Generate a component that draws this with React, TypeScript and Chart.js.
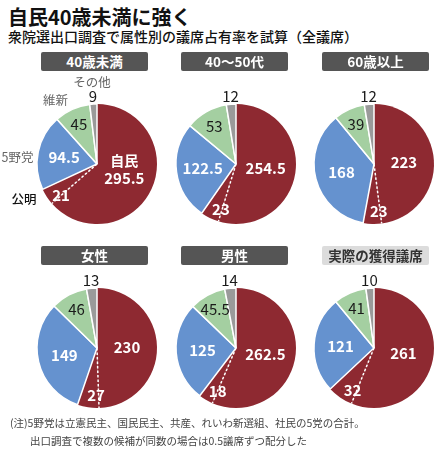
import React, { useEffect, useRef } from 'react';
import { Chart, registerables } from 'chart.js';

Chart.register(...registerables);

const title = '自民40歳未満に強く';
const subtitle = '衆院選出口調査で属性別の議席占有率を試算（全議席）';
const notes = [
  '(注)5野党は立憲民主、国民民主、共産、れいわ新選組、社民の5党の合計。',
  '出口調査で複数の候補が同数の場合は0.5議席ずつ配分した',
];

const parties = ['自民', '公明', '5野党', '維新', 'その他'];
const groups = ['40歳未満', '40～50代', '60歳以上', '女性', '男性', '実際の獲得議席'];
const jimin = [295.5, 254.5, 223, 230, 262.5, 261];
const komei = [21, 23, 23, 27, 18, 32];
const yato = [94.5, 122.5, 168, 149, 125, 121];
const ishin = [45, 53, 39, 46, 45.5, 41];
const others = [9, 12, 12, 13, 14, 10];

const colors = ['#8e2931', '#8e2931', '#6592cf', '#a4cfa1', '#9a9a9a'];
const FONT = '"Noto Sans CJK JP", "Noto Sans", sans-serif';

// where each party's value / name goes (relative to the slice)
const valueStyle = [
  { r: 0.5, shift: 0, color: '#fff', bold: true },
  { r: 0.79, shift: -0.13, color: '#fff', bold: true },
  { r: 0.56, shift: 0, color: '#fff', bold: true },
  { r: 0.73, shift: 0, color: '#1a1a1a', bold: false },
  { r: 1.13, shift: 0, color: '#1a1a1a', bold: false },
];
const nameStyle = [
  null,
  { r: 10, shift: 0.05, align: 'right', color: '#111' },
  { r: 4, shift: -0.09, align: 'right', color: '#666' },
  { r: 10, shift: 0, align: 'right', color: '#666' },
  { r: 22, shift: 0, align: 'center', color: '#666' },
];

const fmt = (v: number) => String(v);

const sliceLabels = {
  id: 'sliceLabels',
  afterDatasetsDraw(chart: any) {
    const ctx = chart.ctx as CanvasRenderingContext2D;
    const arcs = chart.getDatasetMeta(0).data as any[];
    const values = chart.data.datasets[0].data as number[];
    const showNames = chart.options.plugins.sliceLabels?.showNames;
    const { x: cx, y: cy, outerRadius: R } = arcs[0].getProps(['x', 'y', 'outerRadius'], true);

    ctx.save();
    // dashed line between 自民 and 公明
    const a = arcs[0].endAngle;
    ctx.strokeStyle = '#fff';
    ctx.lineWidth = 1.5;
    ctx.setLineDash([2.5, 2]);
    ctx.beginPath();
    ctx.moveTo(cx, cy);
    ctx.lineTo(cx + Math.cos(a) * R, cy + Math.sin(a) * R);
    ctx.stroke();
    ctx.setLineDash([]);

    ctx.textBaseline = 'middle';
    arcs.forEach((arc, i) => {
      const mid = (arc.startAngle + arc.endAngle) / 2;
      const vs = valueStyle[i];
      const va = mid + vs.shift;
      const vx = cx + Math.cos(va) * R * vs.r;
      const vy = cy + Math.sin(va) * R * vs.r;
      ctx.fillStyle = vs.color;
      ctx.textAlign = 'center';
      ctx.font = `${vs.bold ? 'bold ' : ''}15px ${FONT}`;
      if (i === 0 && showNames) {
        ctx.font = `bold 14px ${FONT}`;
        ctx.fillText(parties[0], vx, vy - 16);
        ctx.font = `bold 15px ${FONT}`;
        ctx.fillText(fmt(values[i]), vx, vy + 2);
      } else {
        ctx.fillText(fmt(values[i]), vx, vy);
      }
      const ns = nameStyle[i];
      if (showNames && ns) {
        const na = mid + ns.shift;
        const nx = cx + Math.cos(na) * (R + ns.r);
        const ny = cy + Math.sin(na) * (R + ns.r);
        ctx.fillStyle = ns.color;
        ctx.textAlign = ns.align as CanvasTextAlign;
        ctx.font = `${i === 1 ? '500 ' : ''}12.5px ${FONT}`;
        ctx.fillText(parties[i], nx, ny);
      }
    });
    ctx.restore();
  },
};

const centersX = [97, 236, 374];
const centersY = [164, 348];
const boxLeft = [41, 181, 322];
const boxTop = [52, 246];

function Pie({ index }: { index: number }) {
  const canvasRef = useRef<HTMLCanvasElement>(null);

  useEffect(() => {
    if (!canvasRef.current) return;
    const chart = new Chart(canvasRef.current, {
      type: 'pie',
      data: {
        labels: parties,
        datasets: [
          {
            data: [jimin[index], komei[index], yato[index], ishin[index], others[index]],
            backgroundColor: colors,
            borderColor: '#fff',
            borderWidth: [0, 0, 1.5, 1.5, 1.5],
            radius: 60,
          } as any,
        ],
      },
      options: {
        responsive: false,
        animation: false,
        events: [],
        layout: { padding: 0 },
        plugins: {
          legend: { display: false },
          tooltip: { enabled: false },
          sliceLabels: { showNames: index === 0 },
        } as any,
      },
      plugins: [sliceLabels],
    });
    return () => chart.destroy();
  }, [index]);

  const col = index % 3;
  const row = Math.floor(index / 3);
  const last = index === groups.length - 1;
  return (
    <>
      <div
        style={{
          position: 'absolute',
          left: boxLeft[col],
          top: boxTop[row],
          width: 107,
          height: 19,
          lineHeight: '19px',
          borderRadius: 2,
          background: last ? '#dcdcdc' : '#555',
          color: last ? '#333' : '#fff',
          fontWeight: 'bold',
          fontSize: 13.5,
          textAlign: 'center',
        }}
      >
        {groups[index]}
      </div>
      <canvas
        ref={canvasRef}
        width={200}
        height={190}
        style={{ position: 'absolute', left: centersX[col] - 100, top: centersY[row] - 95 }}
      />
    </>
  );
}

export default function App() {
  return (
    <div
      style={{
        position: 'absolute',
        left: 0,
        top: 0,
        width: 443,
        height: 449,
        background: '#fff',
        fontFamily: FONT,
        overflow: 'hidden',
      }}
    >
      <div style={{ position: 'absolute', left: 8, top: 5, fontSize: 20, lineHeight: '24px', fontWeight: 'bold', color: '#111' }}>
        {title}
      </div>
      <div style={{ position: 'absolute', left: 8, top: 27, fontSize: 14, lineHeight: '18px', fontWeight: 500, color: '#111', whiteSpace: 'nowrap' }}>
        {subtitle}
      </div>
      {groups.map((_, i) => (
        <Pie key={i} index={i} />
      ))}
      <div style={{ position: 'absolute', left: 10, top: 416, fontSize: 10.5, lineHeight: '14px', color: '#444', whiteSpace: 'nowrap' }}>
        {notes[0]}
      </div>
      <div style={{ position: 'absolute', left: 30, top: 434, fontSize: 10.5, lineHeight: '14px', color: '#444', whiteSpace: 'nowrap' }}>
        {notes[1]}
      </div>
    </div>
  );
}
